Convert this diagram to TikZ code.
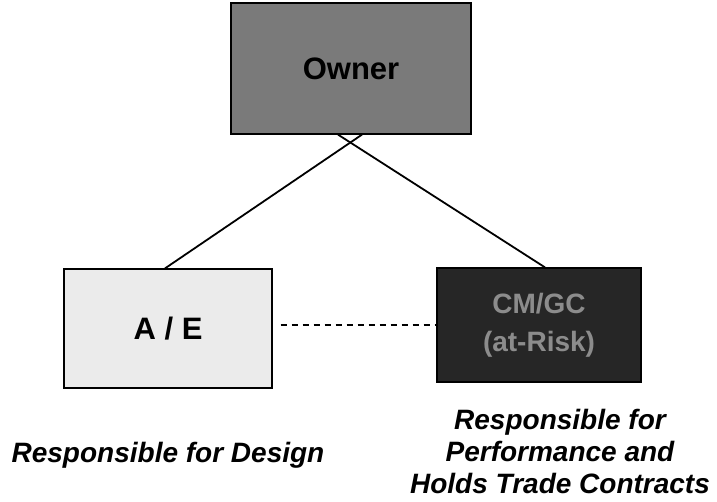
\documentclass[tikz,border=0pt]{standalone}
\usepackage{fontspec}
\setmainfont{Liberation Sans}
\begin{document}
\begin{tikzpicture}[x=1pt,y=-1pt,
  box/.style={draw=black,line width=1.2pt,inner sep=0pt,align=center},
  note/.style={font=\fontsize{28}{32}\selectfont\bfseries\itshape,align=center,inner sep=0pt},
  link/.style={line width=1.8pt,black}]
\useasboundingbox (0,0) rectangle (717,502);
\node[box,fill=black!52,minimum width=240pt,minimum height=131pt,font=\fontsize{31}{36}\selectfont\bfseries] (owner) at (351,68.5) {Owner};
\node[box,fill=black!8,minimum width=208pt,minimum height=119pt,font=\fontsize{31}{36}\selectfont\bfseries] (ae) at (168,328.5) {A / E};
\node[box,fill=black!85,text=black!45,minimum width=204pt,minimum height=114pt,font=\fontsize{28}{38}\selectfont\bfseries] (cm) at (539,325) {CM/GC\\(at-Risk)};
\coordinate (oL) at ([xshift=-13pt]owner.south);
\coordinate (oR) at ([xshift=11pt]owner.south);
\coordinate (aeT) at ([xshift=-3pt]ae.north);
\coordinate (cmT) at ([xshift=6pt]cm.north);
\draw[link] (oR) -- (aeT);
\draw[link] (oL) -- (cmT);
\coordinate (dS) at ([xshift=8pt]ae.east);
\draw[line width=1.2pt,dash pattern=on 6pt off 5pt] (dS |- cm.west) -- (cm.west);
\node[note,anchor=base] (n1) at (168,462) {Responsible for Design};
\node[note] (n2) at (560,451) {Responsible for\\Performance and\\Holds Trade Contracts};
\end{tikzpicture}
\end{document}
